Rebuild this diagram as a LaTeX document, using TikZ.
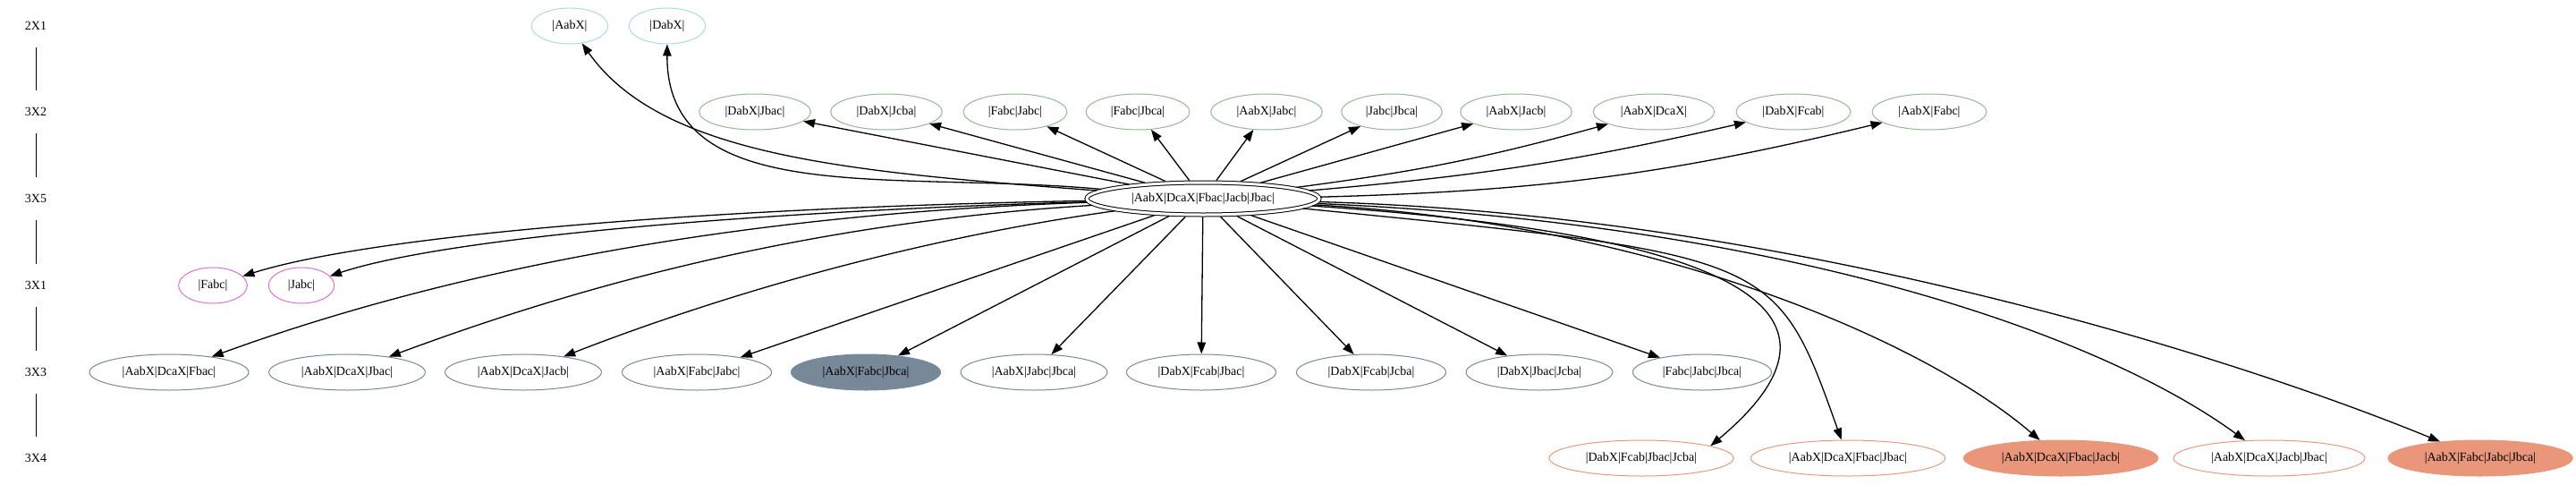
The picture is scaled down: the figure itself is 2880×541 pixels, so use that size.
\documentclass[tikz,border=0pt]{standalone}
\usepackage{fontspec}
\setmainfont{Liberation Serif}
\usepackage{tikz}
\usetikzlibrary{arrows.meta, shapes.geometric}

\definecolor{lblue}{HTML}{ADD8E6}
\definecolor{sgreen}{HTML}{8FBC8F}
\definecolor{orch}{HTML}{DA70D6}
\definecolor{slate}{HTML}{778899}
\definecolor{salm}{HTML}{E9967A}

\begin{document}
\begin{tikzpicture}[x=1pt, y=1pt,
    vtx/.style={ellipse, draw, line width=1pt, inner xsep=10.7pt, inner ysep=0pt,
        minimum height=40pt, font=\fontsize{14pt}{16pt}\selectfont},
    rank/.style={minimum height=48pt, inner sep=0pt, font=\fontsize{14pt}{16pt}\selectfont},
    arr/.style={-{Triangle[length=13pt, width=9.5pt]}, line width=1.3pt},
    v21/.style={vtx, draw=lblue},
    v32/.style={vtx, draw=sgreen},
    v31/.style={vtx, draw=orch},
    v33/.style={vtx, draw=slate},
    v33f/.style={vtx, draw=slate, fill=slate},
    v34/.style={vtx, draw=salm},
    v34f/.style={vtx, draw=salm, fill=salm}]
    \useasboundingbox (0,0) rectangle (2880,-541);

    % Rank labels
    \node[rank] (r1) at (40,-29) {2X1};
    \node[rank] (r2) at (40,-125) {3X2};
    \node[rank] (r3) at (40,-222) {3X5};
    \node[rank] (r4) at (40,-319) {3X1};
    \node[rank] (r5) at (40,-416) {3X3};
    \node[rank] (r6) at (40,-512) {3X4};
    \draw[line width=1pt] (r1) -- (r2);
    \draw[line width=1pt] (r2) -- (r3);
    \draw[line width=1pt] (r3) -- (r4);
    \draw[line width=1pt] (r4) -- (r5);
    \draw[line width=1pt] (r5) -- (r6);

    % 2X1
    \node[v21] (a1) at (637,-29) {|AabX|};
    \node[v21] (a2) at (746,-29) {|DabX|};

    % 3X2
    \node[v32] (b1) at (844,-125) {|DabX|Jbac|};
    \node[v32] (b2) at (991,-125) {|DabX|Jcba|};
    \node[v32] (b3) at (1135,-125) {|Fabc|Jabc|};
    \node[v32] (b4) at (1272,-125) {|Fabc|Jbca|};
    \node[v32] (b5) at (1416,-125) {|AabX|Jabc|};
    \node[v32] (b6) at (1556,-125) {|Jabc|Jbca|};
    \node[v32] (b7) at (1695,-125) {|AabX|Jacb|};
    \node[v32] (b8) at (1849,-125) {|AabX|DcaX|};
    \node[v32] (b9) at (2005,-125) {|DabX|Fcab|};
    \node[v32] (b10) at (2157,-125) {|AabX|Fabc|};

    % 3X5
    \node[vtx, double, double distance=3pt, minimum width=260pt, minimum height=36pt,
        outer sep=2.5pt] (c) at (1345,-222) {|AabX|DcaX|Fbac|Jacb|Jbac|};

    % 3X1
    \node[v31] (d1) at (238,-319) {|Fabc|};
    \node[v31] (d2) at (337,-319) {|Jabc|};

    % 3X3
    \node[v33] (e1) at (189,-416) {|AabX|DcaX|Fbac|};
    \node[v33] (e2) at (388,-416) {|AabX|DcaX|Jbac|};
    \node[v33] (e3) at (585,-416) {|AabX|DcaX|Jacb|};
    \node[v33] (e4) at (779,-416) {|AabX|Fabc|Jabc|};
    \node[v33f] (e5) at (968,-416) {|AabX|Fabc|Jbca|};
    \node[v33] (e6) at (1156,-416) {|AabX|Jabc|Jbca|};
    \node[v33] (e7) at (1343,-416) {|DabX|Fcab|Jbac|};
    \node[v33] (e8) at (1533,-416) {|DabX|Fcab|Jcba|};
    \node[v33] (e9) at (1721,-416) {|DabX|Jbac|Jcba|};
    \node[v33] (e10) at (1903,-416) {|Fabc|Jabc|Jbca|};

    % 3X4
    \node[v34] (f1) at (1835,-512) {|DabX|Fcab|Jbac|Jcba|};
    \node[v34] (f2) at (2066,-512) {|AabX|DcaX|Fbac|Jbac|};
    \node[v34f] (f3) at (2304,-512) {|AabX|DcaX|Fbac|Jacb|};
    \node[v34] (f4) at (2537,-512) {|AabX|DcaX|Jacb|Jbac|};
    \node[v34f] (f5) at (2773,-512) {|AabX|Fabc|Jabc|Jbca|};

    % Edges up
    \draw[arr] (c) .. controls (950,-192) and (740,-175) .. (a1);
    \draw[arr] (c) .. controls (1000,-190) and (745,-235) .. (a2);
    \draw[arr] (c) -- (b1);
    \draw[arr] (c) -- (b2);
    \draw[arr] (c) -- (b3);
    \draw[arr] (c) -- (b4);
    \draw[arr] (c) -- (b5);
    \draw[arr] (c) -- (b6);
    \draw[arr] (c) -- (b7);
    \draw[arr] (c) to[bend right=4] (b8);
    \draw[arr] (c) to[bend right=4] (b9);
    \draw[arr] (c) to[bend right=6] (b10);

    % Edges down
    \draw[arr] (c) .. controls (800,-232) and (420,-262) .. (d1);
    \draw[arr] (c) .. controls (850,-236) and (500,-265) .. (d2);
    \draw[arr] (c) .. controls (800,-240) and (480,-310) .. (e1);
    \draw[arr] (c) .. controls (880,-250) and (620,-330) .. (e2);
    \draw[arr] (c) .. controls (1000,-270) and (780,-340) .. (e3);
    \draw[arr] (c) -- (e4);
    \draw[arr] (c) -- (e5);
    \draw[arr] (c) -- (e6);
    \draw[arr] (c) -- (e7);
    \draw[arr] (c) -- (e8);
    \draw[arr] (c) -- (e9);
    \draw[arr] (c) -- (e10);
    \draw[arr] (c) .. controls (1990,-265) and (2075,-362) .. (f1.10);
    \draw[arr] (c) .. controls (1985,-285) .. (f2);
    \draw[arr] (c) .. controls (1850,-250) and (2150,-380) .. (f3);
    \draw[arr] (c) .. controls (2000,-250) and (2350,-375) .. (f4);
    \draw[arr] (c) .. controls (2000,-240) and (2500,-400) .. (f5);
\end{tikzpicture}
\end{document}
